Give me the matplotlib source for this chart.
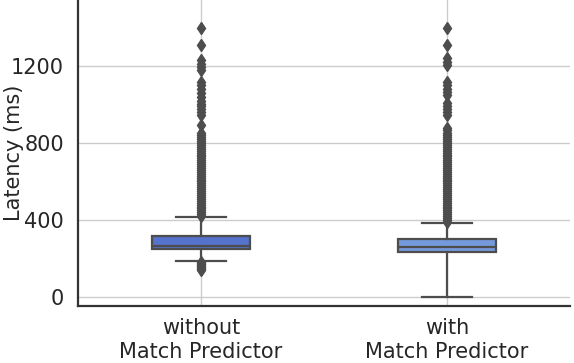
import matplotlib
matplotlib.use("Agg")
import matplotlib.pyplot as plt

categories = ["without\nMatch Predictor", "with\nMatch Predictor"]
q1 = [248, 234]
median = [266, 262]
q3 = [317, 303]
whisker_low = [188, 0]
whisker_high = [417, 386]
colors = ["#5573cd", "#759adc"]

outliers_without = [140, 145, 150, 155, 160, 165, 170, 175, 180,
                    422, 430, 440, 450, 460, 470, 480, 490, 500, 510, 520,
                    530, 540, 550, 560, 570, 580, 590, 600, 610, 620, 630,
                    640, 650, 660, 670, 680, 690, 700, 710, 720, 730, 740,
                    750, 760, 770, 780, 790, 800, 810, 820, 830, 840, 850,
                    893, 945, 960, 975, 990, 1005, 1020, 1040, 1060, 1080,
                    1100, 1117, 1180, 1195, 1210, 1230, 1309, 1395]
outliers_with = [392, 400, 410, 420, 430, 440, 450, 460, 470, 480, 490,
                 500, 510, 520, 530, 540, 550, 560, 570, 580, 590, 600,
                 610, 620, 630, 640, 650, 660, 670, 680, 690, 700, 710,
                 720, 730, 740, 750, 760, 770, 780, 790, 800, 810, 820,
                 830, 840, 850, 865, 880, 945, 960, 975, 990, 1008,
                 1049, 1065, 1080, 1100, 1117, 1205, 1220, 1240, 1309, 1395]
outliers = [outliers_without, outliers_with]

yticks = [0, 400, 800, 1200]

fig = plt.figure(figsize=(5.74, 3.63), dpi=100)
ax = fig.add_axes([78/574, (363-306)/363, (570-78)/574, 306/363])

stats = []
for i in range(2):
    stats.append(dict(med=median[i], q1=q1[i], q3=q3[i],
                      whislo=whisker_low[i], whishi=whisker_high[i],
                      fliers=outliers[i]))

gray = "#4d4d4d"
bp = ax.bxp(stats, positions=[0, 1], widths=0.4, patch_artist=True,
            boxprops=dict(edgecolor=gray, linewidth=1.6),
            medianprops=dict(color=gray, linewidth=1.6),
            whiskerprops=dict(color=gray, linewidth=1.6),
            capprops=dict(color=gray, linewidth=1.6),
            flierprops=dict(marker="d", markerfacecolor=gray,
                            markeredgecolor=gray, markersize=6.5,
                            linestyle="none"),
            capwidths=0.2)
for patch, c in zip(bp["boxes"], colors):
    patch.set_facecolor(c)

ax.set_xlim(-0.5, 1.5)
ax.set_ylim(-47, 1543)
ax.set_xticks([0, 1])
ax.set_xticklabels(categories, fontsize=15, color="#262626", linespacing=1.2)
ax.set_yticks(yticks)
ax.set_yticklabels([str(v) for v in yticks], fontsize=15, color="#262626")
ax.set_ylabel("Latency (ms)", fontsize=15, color="#262626")
ax.yaxis.set_label_coords(-0.11, 0.5)
ax.tick_params(axis="y", length=0, pad=10)
ax.tick_params(axis="x", length=0, pad=9)
ax.grid(True, color="#cccccc", linewidth=1.0)
ax.set_axisbelow(True)
for s in ["top", "right"]:
    ax.spines[s].set_visible(False)
for s in ["left", "bottom"]:
    ax.spines[s].set_color("#333333")
    ax.spines[s].set_linewidth(1.6)

fig.savefig("out.png", dpi=100)
